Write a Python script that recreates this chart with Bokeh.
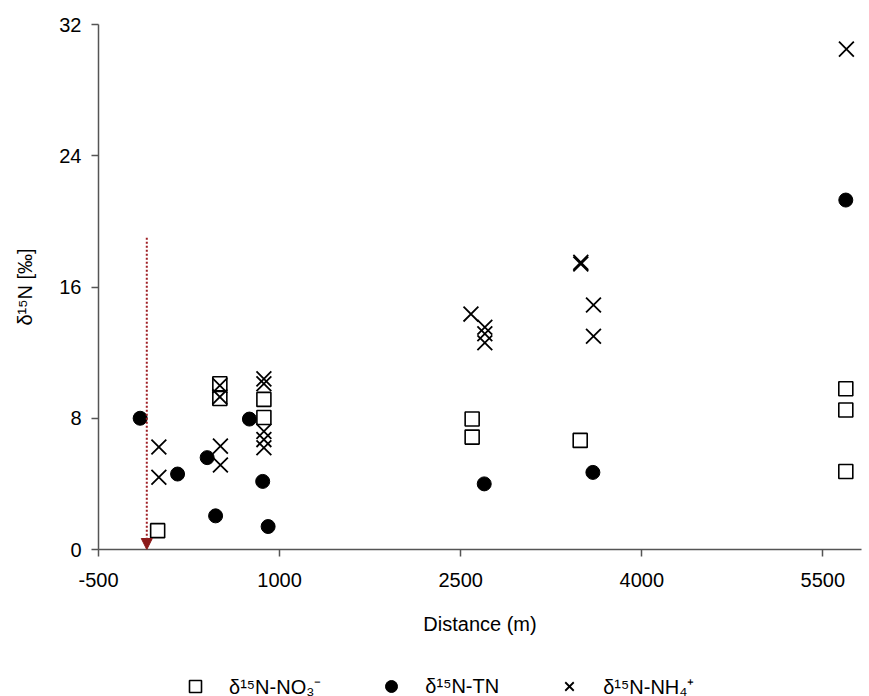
from bokeh.plotting import figure
from bokeh.layouts import column
from bokeh.models import Range1d, FixedTicker, Legend, LegendItem, Arrow, NormalHead
from bokeh.embed import file_html
from bokeh.resources import INLINE

# ---- data ----
no3_x = [-10, 505, 505, 870, 870, 2595, 2595, 3490, 5690, 5690, 5690]
no3_y = [1.15, 10.1, 9.2, 9.15, 8.05, 7.95, 6.85, 6.65, 9.8, 8.5, 4.75]

tn_x = [-155, 155, 400, 470, 750, 860, 905, 2695, 3595, 5690]
tn_y = [8.0, 4.6, 5.6, 2.05, 7.95, 4.15, 1.4, 4.0, 4.7, 21.3]

nh4_x = [0, 0, 510, 510, 505, 505, 870, 870, 870, 870, 870,
         2585, 2700, 2700, 2700, 3495, 3495, 3600, 3600, 5695]
nh4_y = [6.25, 4.4, 6.3, 5.15, 10.0, 9.3, 10.4, 10.1, 7.2, 6.7, 6.2,
         14.35, 13.55, 13.15, 12.6, 17.5, 17.4, 14.9, 13.0, 30.5]

x_ticks = [-500, 1000, 2500, 4000, 5500]
x_tick_labels = {-500: "-500"}
y_ticks = [0, 8, 16, 24, 32]

marker_x = -100
marker_top = 19

labels = ["δ¹⁵N-NO₃⁻", "δ¹⁵N-TN", "δ¹⁵N-NH₄⁺"]

FONT = "Liberation Sans"
W = 866

p = figure(frame_width=763, frame_height=525,
           min_border_left=98, min_border_right=5,
           min_border_top=24, min_border_bottom=100,
           x_range=Range1d(-500, 5820), y_range=Range1d(0, 32),
           output_backend="svg", toolbar_location=None)

p.xgrid.visible = False
p.ygrid.visible = False
p.outline_line_color = None
p.background_fill_color = "white"
p.border_fill_color = "white"

for ax in (p.xaxis, p.yaxis):
    ax.axis_line_color = "#555555"
    ax.axis_line_width = 1.5
    ax.major_tick_line_color = "#555555"
    ax.major_tick_line_width = 1.5
    ax.major_tick_in = 0
    ax.major_tick_out = 7
    ax.minor_tick_line_color = None
    ax.major_label_text_font = FONT
    ax.major_label_text_font_size = "20px"
    ax.major_label_text_color = "black"
    ax.axis_label_text_font = FONT
    ax.axis_label_text_font_size = "20px"
    ax.axis_label_text_font_style = "normal"
    ax.axis_label_text_color = "black"

p.xaxis.ticker = FixedTicker(ticks=x_ticks)
p.xaxis.major_label_overrides = x_tick_labels
p.yaxis.ticker = FixedTicker(ticks=y_ticks)
p.xaxis.major_label_standoff = 16
p.yaxis.major_label_standoff = 10
p.xaxis.axis_label = "Distance (m)"
p.yaxis.axis_label = "δ¹⁵N [‰]"
p.xaxis.axis_label_standoff = 23
p.yaxis.axis_label_standoff = 20

# reference arrow
p.add_layout(Arrow(x_start=marker_x, y_start=marker_top, x_end=marker_x, y_end=0,
                   line_color="#9e1f24", line_width=2, line_dash="2 2",
                   end=NormalHead(size=11, fill_color="#8b1a1a", line_color="#8b1a1a")))

no3_style = dict(marker="square", size=14, fill_color="white", fill_alpha=0,
                 line_color="black", line_width=1.6)
tn_style = dict(marker="circle", size=14, fill_color="black", line_color="black")
nh4_style = dict(marker="x", size=21, line_color="black", line_width=1.8)

p.scatter(no3_x, no3_y, **no3_style)
p.scatter(tn_x, tn_y, **tn_style)
p.scatter(nh4_x, nh4_y, **nh4_style)

# legend strip below the chart (its ranges keep the series out of view;
# only the legend glyphs are drawn)
lg = figure(width=W, height=47, x_range=Range1d(100000, 100001),
            y_range=Range1d(100000, 100001),
            min_border=0, x_axis_location=None, y_axis_location=None,
            output_backend="svg", toolbar_location=None)
lg.xgrid.visible = False
lg.ygrid.visible = False
lg.outline_line_color = None
lg.border_fill_color = "white"

l_no3 = lg.scatter(no3_x, no3_y, **no3_style)
l_tn = lg.scatter(tn_x, tn_y, **tn_style)
l_nh4 = lg.scatter(nh4_x, nh4_y, **nh4_style)

legend = Legend(items=[LegendItem(label=labels[0], renderers=[l_no3]),
                       LegendItem(label=labels[1], renderers=[l_tn]),
                       LegendItem(label=labels[2], renderers=[l_nh4])],
                orientation="horizontal", location=(82, -5),
                glyph_width=30, glyph_height=30, label_standoff=19, spacing=55,
                padding=0, margin=0, border_line_color=None,
                background_fill_alpha=0,
                label_text_font=FONT, label_text_font_size="20px",
                label_text_color="black")
lg.add_layout(legend)

layout = column(p, lg, spacing=0)
open("out.html", "w").write(file_html(layout, INLINE))
